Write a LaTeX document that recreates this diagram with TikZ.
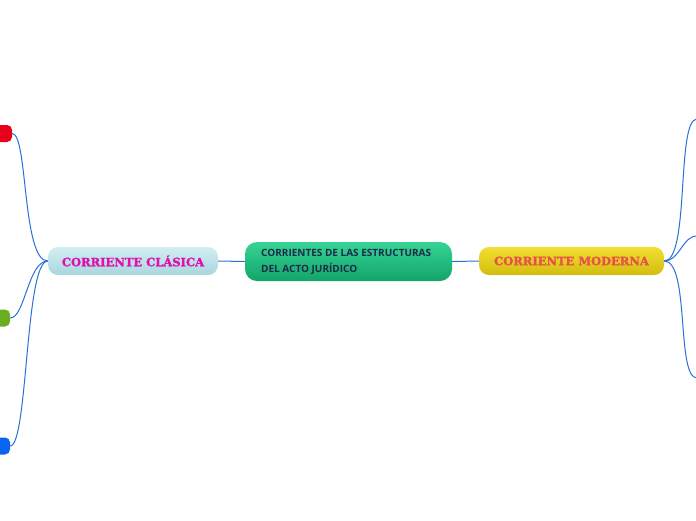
\documentclass[tikz,border=0pt]{standalone}
\usepackage{fontspec}
\setmainfont{Open Sans}
\newfontfamily\slabfont[FakeBold=1.6]{DejaVu Serif}
\definecolor{linkblue}{HTML}{2B6FD8}
\definecolor{navy}{HTML}{1B2A4A}
\definecolor{magtext}{HTML}{E010B0}
\definecolor{redtext}{HTML}{E8504A}
\definecolor{gtop}{HTML}{35D495}
\definecolor{gbot}{HTML}{13A46A}
\definecolor{btop}{HTML}{D2EEF2}
\definecolor{bbot}{HTML}{A9D6DE}
\definecolor{ytop}{HTML}{F0E030}
\definecolor{ybot}{HTML}{D4BC10}
\definecolor{leafred}{HTML}{E8001C}
\definecolor{leafgreen}{HTML}{6AAE20}
\definecolor{leafblue}{HTML}{0A64F0}
\begin{document}
\begin{tikzpicture}[x=1pt,y=-1pt,
  conn/.style={draw=linkblue, line width=1pt},
  topic/.style={rounded corners=12pt, inner sep=0pt, draw=none, anchor=center},
  slab/.style={font=\slabfont\bfseries\fontsize{11.5}{13}\selectfont, inner sep=0pt},
  leaf/.style={rounded corners=5pt, inner sep=0pt, draw=none, minimum height=17pt, minimum width=24pt, anchor=center}]
\useasboundingbox[fill=white] (0,0) rectangle (696,520);
% main nodes
\node[topic, top color=gtop, bottom color=gbot, minimum width=207pt, minimum height=39pt] (c) at (348.5,261.5) {};
\node[text=navy, font=\bfseries\fontsize{10}{16}\selectfont, align=left, anchor=west, inner sep=0pt] (ct) at (261,261.5) {CORRIENTES DE LAS ESTRUCTURAS\\DEL ACTO JURÍDICO};
\node[topic, top color=btop, bottom color=bbot, minimum width=170pt, minimum height=28pt, rounded corners=10pt] (cl) at (133,261) {};
\node[slab, text=magtext] (clt) at (133,261) {CORRIENTE CLÁSICA};
\node[topic, top color=ytop, bottom color=ybot, minimum width=185pt, minimum height=28pt, rounded corners=10pt] (mo) at (571.5,261) {};
\node[slab, text=redtext] (mot) at (571.5,261) {CORRIENTE MODERNA};
% leaves on the left
\node[leaf, fill=leafred] (l1) at (0,133.5) {};
\node[leaf, fill=leafgreen] (l2) at (-2,318) {};
\node[leaf, fill=leafblue] (l3) at (-2,446) {};
% free ends on the right
\coordinate (r1) at (697,119);
\coordinate (r2) at (697,236);
\coordinate (r3) at (697,378);
% connectors
\draw[conn] (cl.east) -- (c.west);
\draw[conn] (c.east) -- (mo.west);
\draw[conn] (cl.west) .. controls (22,261) and (28,133.5) .. (l1.east);
\draw[conn] (cl.west) .. controls (28,261) and (25,318) .. (l2.east);
\draw[conn] (cl.west) .. controls (25,261) and (28,446) .. (l3.east);
\draw[conn] (mo.east) .. controls (690,261) and (676,119) .. (r1);
\draw[conn] (mo.east) .. controls (680,261) and (682,236) .. (r2);
\draw[conn] (mo.east) .. controls (690,261) and (676,378) .. (r3);
\end{tikzpicture}
\end{document}
